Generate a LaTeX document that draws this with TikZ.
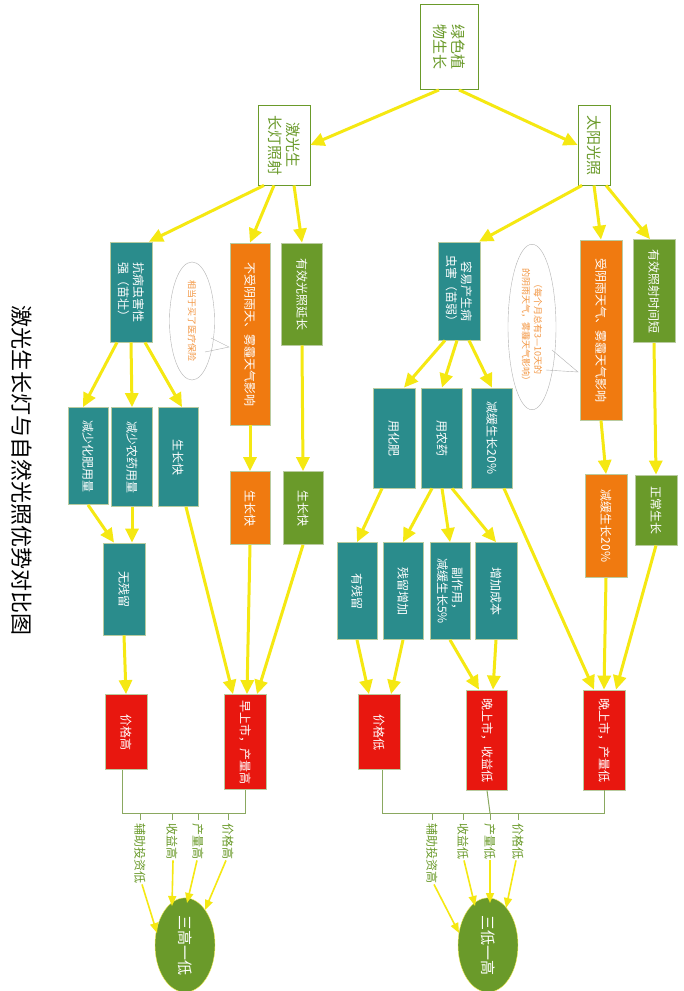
\documentclass[tikz,border=0pt]{standalone}
\usepackage{fontspec}
\setmainfont{Noto Sans CJK SC}
\usetikzlibrary{arrows.meta,shapes.geometric,calc}
\definecolor{cteal}{HTML}{2A8C8C}
\definecolor{corange}{HTML}{F07A10}
\definecolor{cgreen}{HTML}{6A9A2A}
\definecolor{cred}{HTML}{E8170F}
\definecolor{cyel}{HTML}{F5E812}
\definecolor{cline}{HTML}{8AA860}
\newcommand{\bx}[7]{\node[box,fill=#6,minimum width=#5pt,minimum height=#4pt] (#1) at (#2,#3) {#7};}
\begin{document}
\begin{tikzpicture}[x=1pt,y=-1pt,
  box/.style={draw=cline!60,line width=0.8pt,rotate=-90,text=white,align=center,inner sep=1pt,font=\fontsize{12}{15}\selectfont},
  wbox/.style={box,fill=white,draw=cgreen,text=cgreen,font=\fontsize{15}{18}\selectfont},
  ar/.style={cyel,line width=3pt,-{Triangle[width=13pt,length=14pt]}},
  tar/.style={cyel,line width=1.6pt,-{Triangle[width=8pt,length=10pt]}},
  bub/.style={ellipse,draw=gray!60,rotate=-90,text=corange!80,align=center,font=\fontsize{9}{12}\selectfont,inner sep=0pt},
  lab/.style={rotate=-90,text=cgreen,anchor=west,font=\fontsize{12}{14}\selectfont,inner sep=1pt},
  ell/.style={ellipse,fill=cgreen,draw=cyel!70,rotate=-90,text=white,font=\fontsize{15}{18}\selectfont,minimum width=80pt,minimum height=60pt}]
\useasboundingbox[fill=white] (0,0) rectangle (683,991);
\node[rotate=-90,font=\fontsize{22}{26}\selectfont] (title) at (22,470) {激光生长灯与自然光照优势对比图};
% top
\node[wbox,minimum width=85pt,minimum height=58pt] (root) at (449,47) {绿色植\\物生长};
\node[wbox,minimum width=80pt,minimum height=52pt] (las) at (284,145) {激光生\\长灯照射};
\node[wbox,minimum width=80pt,minimum height=32pt] (sun) at (594,145) {太阳光照};
% left
\bx{kb}{131}{292}{42}{100}{cteal}{抗病虫害性\\强（苗壮）}
\bx{bs}{250}{334}{40}{182}{corange}{不受阴雨天、雾霾天气影响}
\bx{yx}{302}{294}{41}{102}{cgreen}{有效光照延长}
\bx{jh}{88}{456}{40}{97}{cteal}{减少化肥用量}
\bx{jn}{132}{457}{41}{99}{cteal}{减少农药用量}
\bx{sk1}{178}{457}{40}{99}{cteal}{生长快}
\bx{sk2}{250}{508}{40}{73}{corange}{生长快}
\bx{sk3}{303}{508}{40}{73}{cgreen}{生长快}
\bx{wc}{124}{589}{42}{92}{cteal}{无残留}
\bx{jg}{126}{732}{42}{75}{cred}{价格高}
\bx{zs}{245}{742}{42}{95}{cred}{早上市，产量高}
\node[bub,minimum width=118pt,minimum height=45pt] (b1) at (192,321) {相当于买了医疗保险};
\draw[gray!60] (205,352) -- (229,347) -- (211,338);
% right
\bx{ry}{459}{291}{42}{98}{cteal}{容易产生病\\虫害（苗弱）}
\bx{sy}{601}{330}{42}{180}{corange}{受阴雨天气、雾霾天气影响}
\bx{yz}{654}{291}{42}{103}{cgreen}{有效照射时间短}
\bx{hf}{394}{438}{42}{100}{cteal}{用化肥}
\bx{ny}{442}{438}{41}{100}{cteal}{用农药}
\bx{jm1}{492}{438}{41}{100}{cteal}{减缓生长20\%}
\bx{jm2}{606}{526}{42}{103}{corange}{减缓生长20\%}
\bx{zc}{656}{510}{42}{70}{cgreen}{正常生长}
\bx{yc}{357}{591}{40}{97}{cteal}{有残留}
\bx{cz}{403}{591}{40}{97}{cteal}{残留增加}
\bx{fz}{450}{591}{40}{97}{cteal}{副作用，\\减缓生长5\%}
\bx{zj}{496}{591}{42}{97}{cteal}{增加成本}
\bx{jd}{379}{732}{42}{75}{cred}{价格低}
\bx{ws}{487}{740}{41}{100}{cred}{晚上市，收益低}
\bx{wc2}{604}{740}{42}{100}{cred}{晚上市，产量低}
\node[bub,minimum width=145pt,minimum height=48pt] (b2) at (532,327) {（每个月总有3—10天的\\的阴雨天气，雾霾天气影响）};
\draw[gray!60] (546,370) -- (578,372) -- (552,350);
% arrows top
\draw[ar] ([xshift=-10pt]root.east) -- (las.north);
\draw[ar] ([xshift=10pt]root.east) -- (sun.south);
\draw[ar] ([xshift=-20pt]las.east) -- ([xshift=18pt]kb.west);
\draw[ar] ([xshift=-10pt]las.east) -- (bs.west);
\draw[ar] ([xshift=10pt]las.east) -- (yx.west);
\draw[ar] ([xshift=-12pt]sun.east) -- ([xshift=20pt]ry.west);
\draw[ar] ([xshift=0pt]sun.east) -- (sy.west);
\draw[ar] ([xshift=12pt]sun.east) -- ([xshift=-4pt]yz.west);
% left
\draw[ar] ([xshift=-14pt]kb.east) -- ([xshift=-5pt]jh.west);
\draw[ar] (kb.east) -- (jn.west);
\draw[ar] ([xshift=14pt]kb.east) -- ([xshift=4pt]sk1.west);
\draw[ar] (bs.east) -- (sk2.west);
\draw[ar] (yx.east) -- (sk3.west);
\draw[ar] (jh.east) -- ([xshift=-10pt]wc.west);
\draw[ar] (jn.east) -- ([xshift=8pt]wc.west);
\draw[ar] (wc.east) -- (jg.west);
\draw[ar] ([xshift=8pt]sk1.east) -- ([xshift=-12pt]zs.west);
\draw[ar] (sk2.east) -- ([xshift=2pt]zs.west);
\draw[ar] (sk3.east) -- ([xshift=12pt]zs.west);
% right
\draw[ar] ([xshift=-14pt]ry.east) -- ([xshift=10pt]hf.west);
\draw[ar] ([xshift=-2pt]ry.east) -- (ny.west);
\draw[ar] ([xshift=10pt]ry.east) -- (jm1.west);
\draw[ar] ([xshift=-12pt]hf.east) -- (yc.west);
\draw[ar] ([xshift=-10pt]ny.east) -- (cz.west);
\draw[ar] (ny.east) -- (fz.west);
\draw[ar] ([xshift=10pt]ny.east) -- (zj.west);
\draw[ar] (yc.east) -- ([xshift=-10pt]jd.west);
\draw[ar] (cz.east) -- ([xshift=12pt]jd.west);
\draw[ar] (fz.east) -- ([xshift=-8pt]ws.west);
\draw[ar] (zj.east) -- ([xshift=6pt]ws.west);
\draw[ar] ([xshift=12pt]jm1.east) -- ([xshift=-10pt]wc2.west);
\draw[ar] (sy.east) -- (jm2.west);
\draw[ar] (jm2.east) -- (wc2.west);
\draw[ar] (yz.east) -- (zc.west);
\draw[ar] (zc.east) -- ([xshift=12pt]wc2.west);
% brackets left
\coordinate (L1) at (122,813); \coordinate (L2) at (245,813);
\draw[cline,line width=1pt] ([xshift=-4pt]jg.east) -- (L1) -- (L2) -- (zs.east);
\foreach \x/\t/\n in {140/辅助投资低/la,172/收益高/lb,198/产量高/lc,228/价格高/ld}{
  \draw[cline,line width=1pt] (\x,813) -- (\x,820);
  \node[lab] (\n) at (\x,822) {\t};}
\node[ell] (e1) at (185,945) {三高一低};
\coordinate (t1) at (157,933); \coordinate (t2) at (172,906);
\coordinate (t3) at (187,903); \coordinate (t4) at (205,910);
\draw[tar] ([xshift=2pt]la.east) -- (t1);
\draw[tar] ([xshift=1pt]lb.east) -- (t2);
\draw[tar] ([xshift=-1pt]lc.east) -- (t3);
\draw[tar] ([xshift=-2pt]ld.east) -- (t4);
% brackets right
\coordinate (R1) at (382,813); \coordinate (R2) at (604,813);
\draw[cline,line width=1pt] ([xshift=3pt]jd.east) -- (R1) -- (R2) -- (wc2.east);
\draw[cline,line width=1pt] (ws.east) -- (490,813);
\foreach \x/\t/\n in {432/辅助投资高/ra,463/收益低/rb,490/产量低/rc,518/价格低/rd}{
  \draw[cline,line width=1pt] (\x,813) -- (\x,820);
  \node[lab] (\n) at (\x,822) {\t};}
\node[ell] (e2) at (488,945) {三低一高};
\coordinate (s1) at (459,933); \coordinate (s2) at (475,906);
\coordinate (s3) at (490,903); \coordinate (s4) at (506,908);
\draw[tar] ([xshift=2pt]ra.east) -- (s1);
\draw[tar] ([xshift=1pt]rb.east) -- (s2);
\draw[tar] (rc.east) -- (s3);
\draw[tar] ([xshift=-2pt]rd.east) -- (s4);
\end{tikzpicture}
\end{document}
